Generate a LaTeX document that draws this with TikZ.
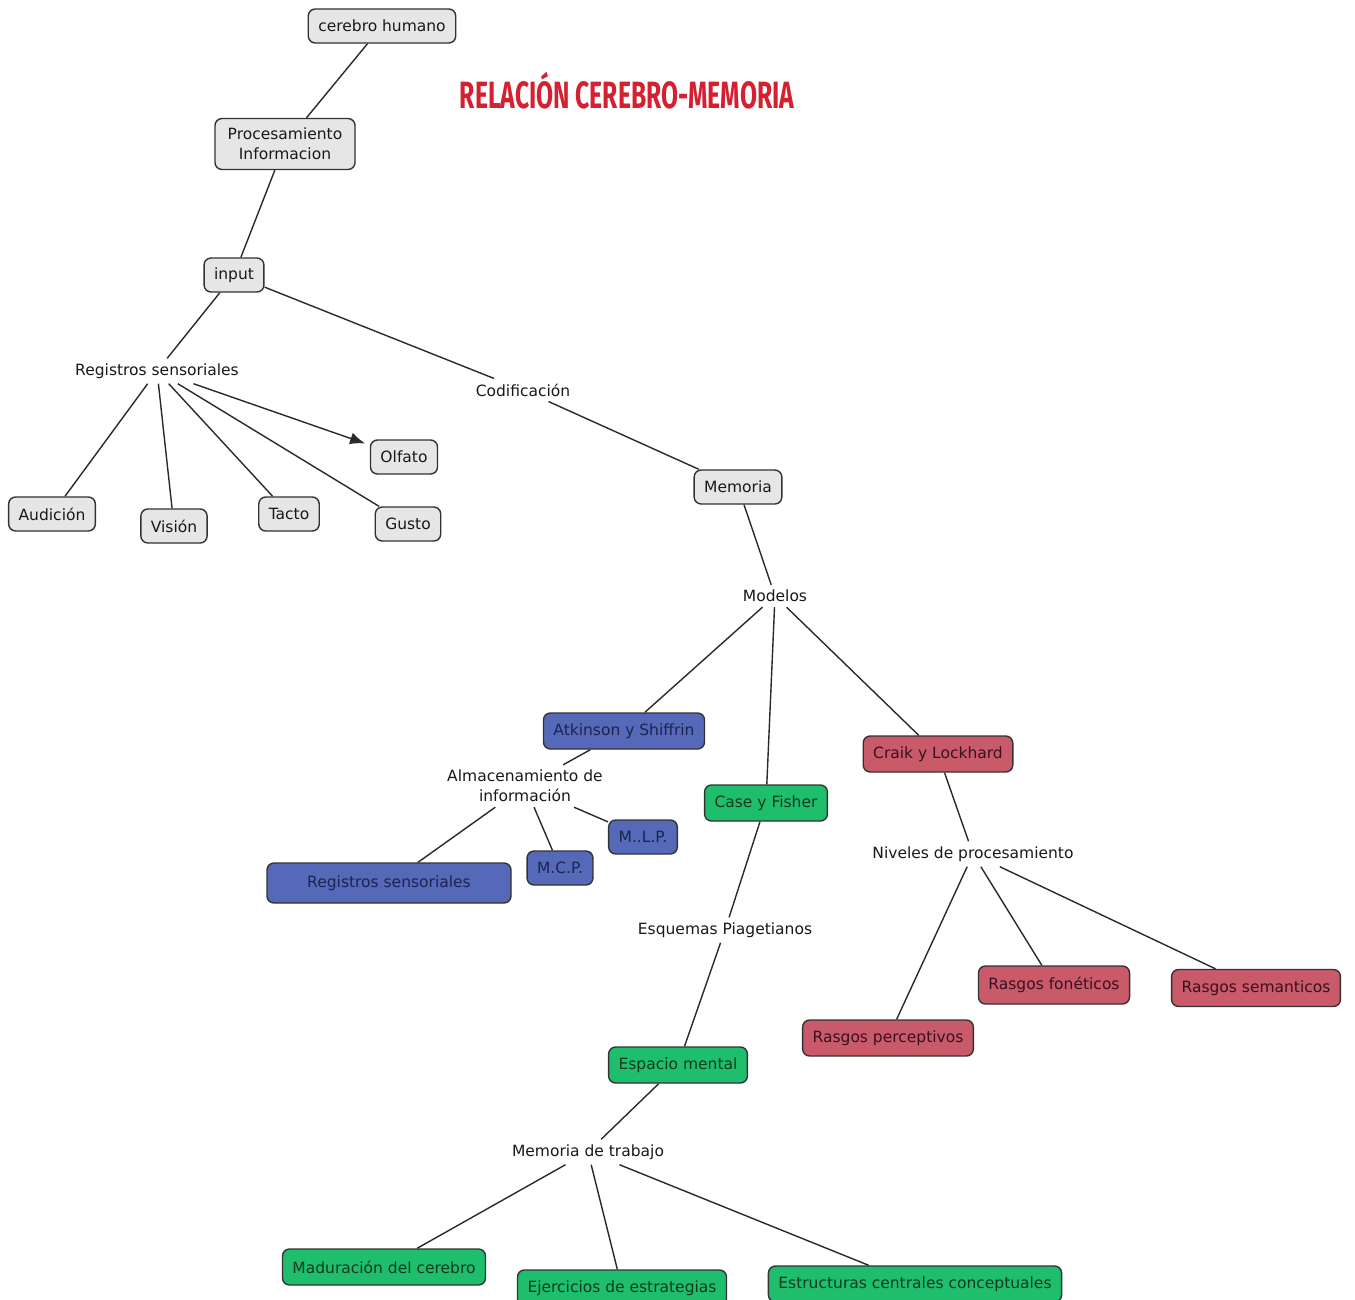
\documentclass[tikz,border=0pt]{standalone}
\usepackage{fontspec}
\setmainfont{DejaVu Sans}
\newfontfamily\titlefont{Fira Sans}
\usetikzlibrary{arrows.meta}

\definecolor{gfill}{HTML}{E6E6E6}
\definecolor{bfill}{HTML}{5668B8}
\definecolor{btext}{HTML}{1C2450}
\definecolor{efill}{HTML}{1EBE6C}
\definecolor{etext}{HTML}{0F3A1F}
\definecolor{rfill}{HTML}{C85A6A}
\definecolor{rtext}{HTML}{3A1020}
\definecolor{titlered}{HTML}{D42030}
\definecolor{linkcol}{HTML}{2A2A2A}

\tikzset{
  every node/.style={font=\fontsize{15.5}{20}\selectfont},
  boxbase/.style={draw=black!80, line width=1.4pt, rounded corners=7pt,
    inner xsep=10pt, inner ysep=3pt, minimum height=34pt},
  gbox/.style={boxbase, fill=gfill, text=black!90},
  bbox/.style={boxbase, fill=bfill, text=btext},
  ebox/.style={boxbase, fill=efill, text=etext},
  rbox/.style={boxbase, fill=rfill, text=rtext},
  lbl/.style={inner xsep=3pt, inner ysep=5pt, text=black!90},
  link/.style={draw=linkcol, line width=1.4pt},
}

\begin{document}
\begin{tikzpicture}[x=1pt,y=-1pt]
\useasboundingbox[fill=white] (0,0) rectangle (1355,1299);
\clip (0,0) rectangle (1355,1299);

% title
\node[text=titlered, inner sep=0pt, anchor=base] (ttl) at (627,108)
  {\scalebox{0.65}[1]{\titlefont\bfseries\fontsize{38}{38}\selectfont RELACIÓN CEREBRO-MEMORIA}};

% upper chain
\node[gbox] (cer) at (382,26) {cerebro humano};
\node[gbox, align=center, minimum height=51pt, minimum width=140pt] (proc) at (285,144) {Procesamiento\\Informacion};
\node[gbox] (inp) at (234,275) {input};
\node[lbl] (rs) at (157,371) {Registros sensoriales};
\node[lbl] (cod) at (523,390) {Codificación};

% senses
\node[gbox] (olf) at (404,457) {Olfato};
\node[gbox] (aud) at (52,514) {Audición};
\node[gbox] (vis) at (174,526) {Visión};
\node[gbox] (tac) at (289,514) {Tacto};
\node[gbox] (gus) at (408,524) {Gusto};

% memory and models
\node[gbox] (mem) at (738,487) {Memoria};
\node[lbl] (mod) at (775,596) {Modelos};
\node[bbox, minimum height=36pt] (atk) at (624,731) {Atkinson y Shiffrin};
\node[rbox, minimum height=36pt] (crk) at (938,754) {Craik y Lockhard};
\node[ebox, minimum height=36pt] (cas) at (766,803) {Case y Fisher};

% Atkinson y Shiffrin branch
\node[lbl, align=center] (alm) at (525,786) {Almacenamiento de\\información};
\node[bbox] (mlp) at (643,837) {M..L.P.};
\node[bbox] (mcp) at (560,868) {M.C.P.};
\node[bbox, minimum width=244pt, minimum height=40pt] (rsb) at (389,883) {Registros sensoriales};

% Craik y Lockhard branch
\node[lbl] (niv) at (973,854) {Niveles de procesamiento};
\node[rbox, minimum height=38pt] (fon) at (1054,985) {Rasgos fonéticos};
\node[rbox, minimum height=37pt] (sem) at (1256,988) {Rasgos semanticos};
\node[rbox, minimum height=36pt] (per) at (888,1038) {Rasgos perceptivos};

% Case y Fisher branch
\node[lbl] (esq) at (725,930) {Esquemas Piagetianos};
\node[ebox, minimum height=36pt] (esp) at (678,1065) {Espacio mental};
\node[lbl] (mtr) at (588,1152) {Memoria de trabajo};
\node[ebox, minimum height=36pt] (mad) at (384,1267) {Maduración del cerebro};
\node[ebox, minimum height=36pt] (eje) at (622,1288) {Ejercicios de estrategias};
\node[ebox, minimum height=36pt] (est) at (915,1284) {Estructuras centrales conceptuales};

% connectors
\draw[link] (cer) -- (proc);
\draw[link] (proc) -- (inp);
\draw[link] (inp) -- (rs);
\draw[link] (inp) -- (cod);
\draw[link] (cod) -- (mem);
\draw[link] (rs) -- (aud);
\draw[link] (rs) -- (vis);
\draw[link] (rs) -- (tac);
\draw[link] (rs) -- (gus);
\draw[link, -{Latex[length=15pt,width=12pt]}, shorten >=5pt] (rs) -- (olf);
\draw[link] (mem) -- (mod);
\draw[link] (mod) -- (atk);
\draw[link] (mod) -- (cas);
\draw[link] (mod) -- (crk);
\draw[link] (atk) -- (alm);
\draw[link] (alm) -- (rsb);
\draw[link] (alm) -- (mcp);
\draw[link] (alm) -- (mlp);
\draw[link] (crk) -- (niv);
\draw[link] (niv) -- (per);
\draw[link] (niv) -- (fon);
\draw[link] (niv) -- (sem);
\draw[link] (cas) -- (esq);
\draw[link] (esq) -- (esp);
\draw[link] (esp) -- (mtr);
\draw[link] (mtr) -- (mad);
\draw[link] (mtr) -- (eje);
\draw[link] (mtr) -- (est);
\end{tikzpicture}
\end{document}
